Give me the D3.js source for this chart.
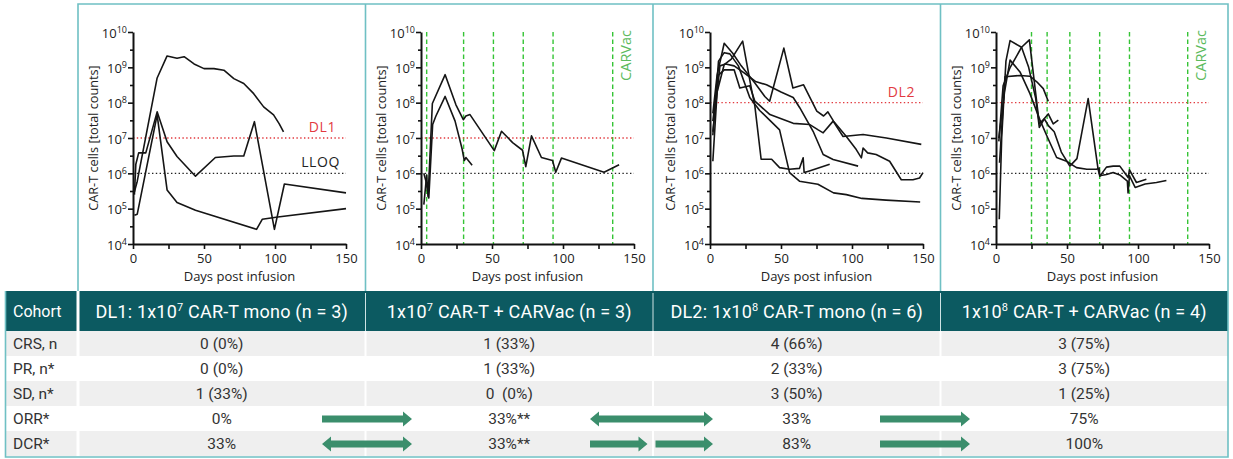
<!DOCTYPE html>
<html><head><meta charset="utf-8">
<script src="https://cdn.jsdelivr.net/npm/d3@7"></script>
<style>
body{margin:0;background:#fff}
svg{display:block}
.chart text{font-family:'Open Sans',sans-serif}
.tbl text{font-family:Roboto,sans-serif}
</style>
</head><body>
<svg id="c" width="1233" height="459"></svg>
<script>
// ---------------- DATA ----------------
const dl1Series = [
  [[1,3e5],[3,6e5],[17,5e8],[24,2.1e9],[31,1.8e9],[36,2.0e9],[43,1.25e9],[50,9.2e8],[57,9.2e8],[64,8.3e8],[71,4.8e8],[78,3.5e8],[85,1.8e8],[92,7.6e7],[99,4.5e7],[103,2.5e7],[106,1.5e7]],
  [[1,2.5e5],[2,1.8e6],[4,3.8e6],[9,3.8e6],[17,5.5e7],[24,7.8e6],[31,3e6],[44,8.3e5],[58,2.8e6],[71,3.1e6],[78,3.1e6],[85.5,2.9e7],[99.6,2.6e4],[106.6,5e5],[150,2.8e5]],
  [[1,6.5e4],[3,7e4],[17,4.5e7],[24,3.4e5],[31,1.5e5],[44,9e4],[87,2.6e4],[91,5e4],[102,5.8e4],[150,1e5]]
];
const carvac1Series = [
  [[2,1.3e5],[4,9e5],[5,2.2e5],[8,9.5e7],[17,6.2e8],[24.6,8.7e7],[29.8,3.3e7],[31.6,4.2e7],[34.5,4.6e7],[51.6,4.4e6],[56.7,1.55e7],[64.5,7.4e6],[71.5,4.5e6],[73.8,1.55e6],[77.8,1.15e7],[84.8,2.8e6],[92.6,2.3e6],[94.9,1.07e6],[98.9,2.7e6],[128.9,1.07e6],[139.5,1.75e6]],
  [[2,1e6],[3.5,6e5],[5.5,2e5],[8.2,2.4e7],[10.5,4.2e7],[17,1.5e8],[24,3e7],[29,4.8e6],[30.5,2.3e6],[31.6,2.8e6],[36,1.7e6]]
];
const dl2Series = [
  [[2,5e7],[5,6e8],[10,4.8e9],[16,2.5e9],[22,1.1e9],[31.6,3.6e8],[38.6,1.5e8],[42,1.1e8],[52,3.5e9],[58.4,2.6e8],[65.9,3.2e8],[75.2,5.8e7],[80,4.2e7],[83,5.5e7],[87,3e7],[96,1.1e7],[103,4.7e6],[106.6,2.75e6],[107.8,5.2e6],[111,3.8e6],[117,3.4e6],[126.5,2.2e6],[134.7,6.6e5],[142.9,6.6e5],[147.6,7.4e5],[150,1.05e6]],
  [[2,2.2e6],[5,2e8],[10,1.2e9],[15,1.7e9],[23,5.5e9],[29.3,2.3e8],[31.6,8e7],[36,2.5e6],[43.4,2.5e6],[49,1.45e6],[56,1.3e6],[63,1.38e6],[65.6,2.75e6],[66.3,1.05e6],[70,1.17e6],[84.3,1.8e6]],
  [[2,1.2e7],[6,1.5e9],[10,2.6e9],[14,2.4e9],[20,1.1e9],[28,1.4e8],[35,6e7],[42,3.2e7],[49,1.7e7],[56,1.05e6],[63,6e5],[76,4.9e5],[87,2.8e5],[96,2.5e5],[107,1.95e5],[124,1.75e5],[148,1.55e5]],
  [[2,3e7],[6,6e8],[10,8.5e8],[17,8.5e8],[21,2.6e8],[28,3e8],[31.6,1.1e8],[42.2,4.6e7],[58.6,2.6e7],[70.3,2.4e7],[76.2,1.7e7],[79.7,1.4e7],[86.7,3e7],[93.7,1.1e7],[107.8,1.26e7],[124.2,1e7],[148.8,6.6e6]],
  [[2,1.5e7],[7,1.1e9],[11,1.25e9],[17,1.1e9],[24,7e8],[32,4e8],[39.8,3.2e8],[50,2e8],[58.6,1.4e8],[63.2,7.2e7],[72.6,1.55e7],[79.7,3.4e6],[86.7,2.45e6],[104.3,1.6e6]]
];
const carvac2Series = [
  [[2.3,5e4],[4,1e7],[7,1.5e9],[9.9,5.7e9],[18,3.7e9],[23,1e9],[28,1.3e8],[30.5,2e7],[34,3.5e7],[37,2.2e7],[41,1.5e7],[46,4e6],[52,1.6e6],[57,2.6e6],[64.9,1.3e8],[71.9,1.3e6],[73.1,8.5e5],[77.8,9.3e5],[82.5,1.05e6],[87.2,9e5],[92.5,6e5],[93,2.8e5],[94,8.5e5],[98,4e5],[105,5e5],[113,5.5e5],[120,6.3e5]],
  [[2,8e6],[5,3e8],[10,1e9],[18,3.7e9],[23.5,6e9],[26.3,6.6e8],[30.5,2.5e7],[33,3.2e7],[36.8,4.8e7],[40.3,2.5e7],[43.9,3.2e7]],
  [[2.5,2e6],[6.3,5.4e8],[16.9,5.9e8],[23.9,5.6e8],[28.7,3.9e8],[33.3,2.5e8],[36.8,1.1e8]],
  [[2,1e7],[6,2e8],[9.9,1.6e9],[16.9,7.4e8],[23.9,1.8e8],[31,3.2e7],[36,1.1e7],[42.7,2.8e6],[49.7,2.2e6],[56.7,1.45e6],[64,1.3e6],[70.8,1.3e6],[72.6,1.4e6],[73.1,8.3e5],[77.8,1.5e6],[82.5,1.6e6],[87.2,1.6e6],[93,7.6e5],[94,1.25e6],[98.9,5.5e5],[105.9,6.8e5]]
];
const vaccineDays1 = [4, 30, 51, 72, 93, 135];
const vaccineDays2 = [25, 36, 52, 73, 94, 135];
const yTickExponents = [4, 5, 6, 7, 8, 9, 10];
const xTickValues = [0, 25, 50, 75, 100, 125, 150];
const xTickLabels = [0, 50, 100, 150];
const lloq = 1e6;
const dl1Level = 1e7;
const dl2Level = 1e8;

const cohortHeaders = [
  ["DL1: 1x10", "7", " CAR-T mono (n = 3)"],
  ["1x10", "7", " CAR-T + CARVac (n = 3)"],
  ["DL2: 1x10", "8", " CAR-T mono (n = 6)"],
  ["1x10", "8", " CAR-T + CARVac (n = 4)"]
];
const rowLabels = ["CRS, n", "PR, n*", "SD, n*", "ORR*", "DCR*"];
const crsValues = ["0 (0%)", "1 (33%)", "4 (66%)", "3 (75%)"];
const prValues  = ["0 (0%)", "1 (33%)", "2 (33%)", "3 (75%)"];
const sdValues  = ["1 (33%)", "0  (0%)", "3 (50%)", "1 (25%)"];
const orrValues = ["0%", "33%**", "33%", "75%"];
const dcrValues = ["33%", "33%**", "83%", "100%"];
const orrArrows = [["right", 0], ["both", 1], ["right", 2]];
const dcrArrows = [["both", 0], ["split", 1], ["right", 2]];

// ---------------- LAYOUT ----------------
const svg = d3.select("#c");
const YT = 32, YB = 244, PW = 213;
const TEAL = "#6fc0c4", HEAD = "#0c5a61", ARROW = "#3b8e6c", GREEN = "#35c435";

const chart = svg.append("g").attr("class", "chart");

function drawPanel(x0, series, opts) {
  const g = chart.append("g");
  const x = d3.scaleLinear().domain([0, 150]).range([x0, x0 + PW]);
  const y = d3.scaleLog().domain([1e4, 1e10]).range([YB, YT]);

  if (opts.vaccine) {
    g.selectAll(".vac").data(opts.vaccine).join("line")
      .attr("x1", d => x(d)).attr("x2", d => x(d))
      .attr("y1", YT).attr("y2", YB)
      .attr("stroke", GREEN).attr("stroke-width", 1.4).attr("stroke-dasharray", "4.5,3");
    g.append("text").attr("transform", `translate(${x0 + 210},${YT - 2}) rotate(-90)`)
      .attr("text-anchor", "end").attr("font-size", 14.5).attr("fill", "#5dbb5d").text("CARVac");
  }
  opts.refs.forEach(r => {
    g.append("line").attr("x1", x(0)).attr("x2", x(150)).attr("y1", y(r.v)).attr("y2", y(r.v))
      .attr("stroke", r.color).attr("stroke-width", 1.4).attr("stroke-dasharray", "1.4,2.4");
    if (r.label) {
      g.append("text").attr("x", x0 + r.lx).attr("y", y(r.v) - 6).attr("text-anchor", "end")
        .attr("font-size", 14).attr("fill", r.color).attr("letter-spacing", 0.6).text(r.label);
    }
  });
  const line = d3.line().x(d => x(d[0])).y(d => y(d[1]));
  g.selectAll(".s").data(series).join("path")
    .attr("d", line).attr("fill", "none").attr("stroke", "#151515")
    .attr("stroke-width", 1.6).attr("stroke-linejoin", "round");

  g.append("g").attr("transform", `translate(${x0},0)`)
    .call(d3.axisLeft(y).tickValues(yTickExponents.map(e => Math.pow(10, e))).tickSize(5).tickSizeOuter(0).tickFormat(() => ""));
  g.append("g").attr("transform", `translate(${x0},0)`)
    .call(d3.axisLeft(y).tickValues(yTickExponents.slice(0, -1).map(e => Math.pow(10, e + 0.5))).tickSize(3).tickSizeOuter(0).tickFormat(() => ""))
    .select(".domain").remove();
  yTickExponents.forEach(e => {
    const t = g.append("text").attr("x", x0 - 6).attr("y", y(Math.pow(10, e)) + 5.5)
      .attr("text-anchor", "end").attr("font-size", 13).attr("fill", "#222");
    t.append("tspan").text("10");
    t.append("tspan").attr("font-size", 9).attr("dy", -5).text(e);
  });
  g.append("g").attr("transform", `translate(0,${YB})`)
    .call(d3.axisBottom(x).tickValues(xTickValues).tickSize(5).tickSizeOuter(0).tickPadding(5)
      .tickFormat(d => xTickLabels.includes(d) ? d : ""))
    .selectAll("text").attr("font-size", 13).attr("fill", "#222").attr("font-family", "'Open Sans',sans-serif");
  g.selectAll(".domain").attr("stroke", "#111").attr("stroke-width", 2);
  g.selectAll(".tick line").attr("stroke", "#111").attr("stroke-width", 1.6);

  g.append("text").attr("transform", `translate(${x0 - 35},${(YT + YB) / 2}) rotate(-90)`)
    .attr("text-anchor", "middle").attr("font-size", 12.7).attr("fill", "#222")
    .text("CAR-T cells [total counts]");
  g.append("text").attr("x", x0 + PW / 2).attr("y", 281).attr("text-anchor", "middle")
    .attr("font-size", 13).attr("fill", "#222").text("Days post infusion");
}

drawPanel(133, dl1Series, {refs: [{v: dl1Level, color: "#e23a3f", label: "DL1", lx: 203}, {v: lloq, color: "#222", label: "LLOQ", lx: 207}]});
drawPanel(421, carvac1Series, {vaccine: vaccineDays1, refs: [{v: dl1Level, color: "#e23a3f"}, {v: lloq, color: "#222"}]});
drawPanel(710, dl2Series, {refs: [{v: dl2Level, color: "#e23a3f", label: "DL2", lx: 205}, {v: lloq, color: "#222"}]});
drawPanel(996, carvac2Series, {vaccine: vaccineDays2, refs: [{v: dl2Level, color: "#e23a3f"}, {v: lloq, color: "#222"}]});

// ---------------- TABLE ----------------
const tbl = svg.append("g").attr("class", "tbl");
const col = d3.scaleBand().domain(d3.range(4)).range([78, 1228]);
const rowTop = 331, rowH = 25, headTop = 291;
const rows = [crsValues, prValues, sdValues, orrValues, dcrValues];
const rowY = d3.scaleBand().domain(d3.range(5)).range([rowTop, rowTop + 5 * rowH]);

tbl.append("rect").attr("x", 6).attr("y", headTop).attr("width", 1222).attr("height", rowTop - headTop).attr("fill", HEAD);
tbl.selectAll(".rb").data(rows).join("rect")
  .attr("x", 6).attr("y", (d, i) => rowY(i)).attr("width", 1222).attr("height", rowH)
  .attr("fill", (d, i) => i % 2 === 0 ? "#efefef" : "#ffffff");
tbl.append("line").attr("x1", 78).attr("x2", 78).attr("y1", headTop).attr("y2", rowTop + 5 * rowH)
  .attr("stroke", "#fff").attr("stroke-width", 3);
[1, 2, 3].forEach(i => {
  tbl.append("line").attr("x1", col(i)).attr("x2", col(i)).attr("y1", headTop + 2).attr("y2", rowTop)
    .attr("stroke", "#cfe3e4").attr("stroke-width", 1);
  tbl.append("line").attr("x1", col(i)).attr("x2", col(i)).attr("y1", rowTop).attr("y2", rowTop + 5 * rowH)
    .attr("stroke", "#fff").attr("stroke-width", 2);
});
tbl.append("text").attr("x", 13).attr("y", 317).attr("font-size", 16).attr("fill", "#fff").text("Cohort");
cohortHeaders.forEach((h, i) => {
  const t = tbl.append("text").attr("x", col(i) + col.bandwidth() / 2).attr("y", 318)
    .attr("text-anchor", "middle").attr("font-size", 18).attr("letter-spacing", 0.2).attr("fill", "#fff");
  t.append("tspan").text(h[0]);
  t.append("tspan").attr("font-size", 11).attr("dy", -7).text(h[1]);
  t.append("tspan").attr("dy", 7).text(h[2]);
});
rowLabels.forEach((l, r) => {
  tbl.append("text").attr("x", 13).attr("y", rowY(r) + 18).attr("font-size", 15.5).attr("fill", "#333").text(l);
  rows[r].forEach((v, c) => {
    tbl.append("text").attr("x", col(c) + col.bandwidth() / 2).attr("y", rowY(r) + 18)
      .attr("text-anchor", "middle").attr("font-size", 15.5).attr("fill", "#333")
      .style("white-space", "pre").text(v);
  });
});
const arrowSpan = [[322, 412], [590, 713], [880, 970]];
function arrowPath(x1, x2, yc, both) {
  const s = 3.6, h = 7.6, L = 9;
  const p = [];
  if (both) p.push([x1, yc], [x1 + L, yc - h], [x1 + L, yc - s]);
  else p.push([x1, yc - s]);
  p.push([x2 - L, yc - s], [x2 - L, yc - h], [x2, yc], [x2 - L, yc + h], [x2 - L, yc + s]);
  if (both) p.push([x1 + L, yc + s], [x1 + L, yc + h]);
  else p.push([x1, yc + s]);
  return "M" + p.map(q => q.join(",")).join("L") + "Z";
}
function drawArrows(list, r) {
  const yc = rowY(r) + rowH / 2 + 0.5;
  list.forEach(([kind, gap]) => {
    const [a, b] = arrowSpan[gap];
    const parts = kind === "split" ? [[a, (a + b) / 2 - 4, false], [(a + b) / 2 + 4, b, false]]
      : [[a, b, kind === "both"]];
    parts.forEach(([p1, p2, bo]) => tbl.append("path").attr("d", arrowPath(p1, p2, yc, bo)).attr("fill", ARROW));
  });
}
drawArrows(orrArrows, 3);
drawArrows(dcrArrows, 4);

// ---------------- FRAMES ----------------
const fr = svg.append("g").attr("fill", "none").attr("stroke", TEAL).attr("stroke-width", 1.6);
fr.append("path").attr("d", `M78,${headTop}V4H1228V${rowTop + 5 * rowH + 1}H5.5V${headTop}`);
[1, 2, 3].forEach(i => fr.append("line").attr("x1", col(i)).attr("x2", col(i)).attr("y1", 4).attr("y2", headTop));
</script>
</body></html>
